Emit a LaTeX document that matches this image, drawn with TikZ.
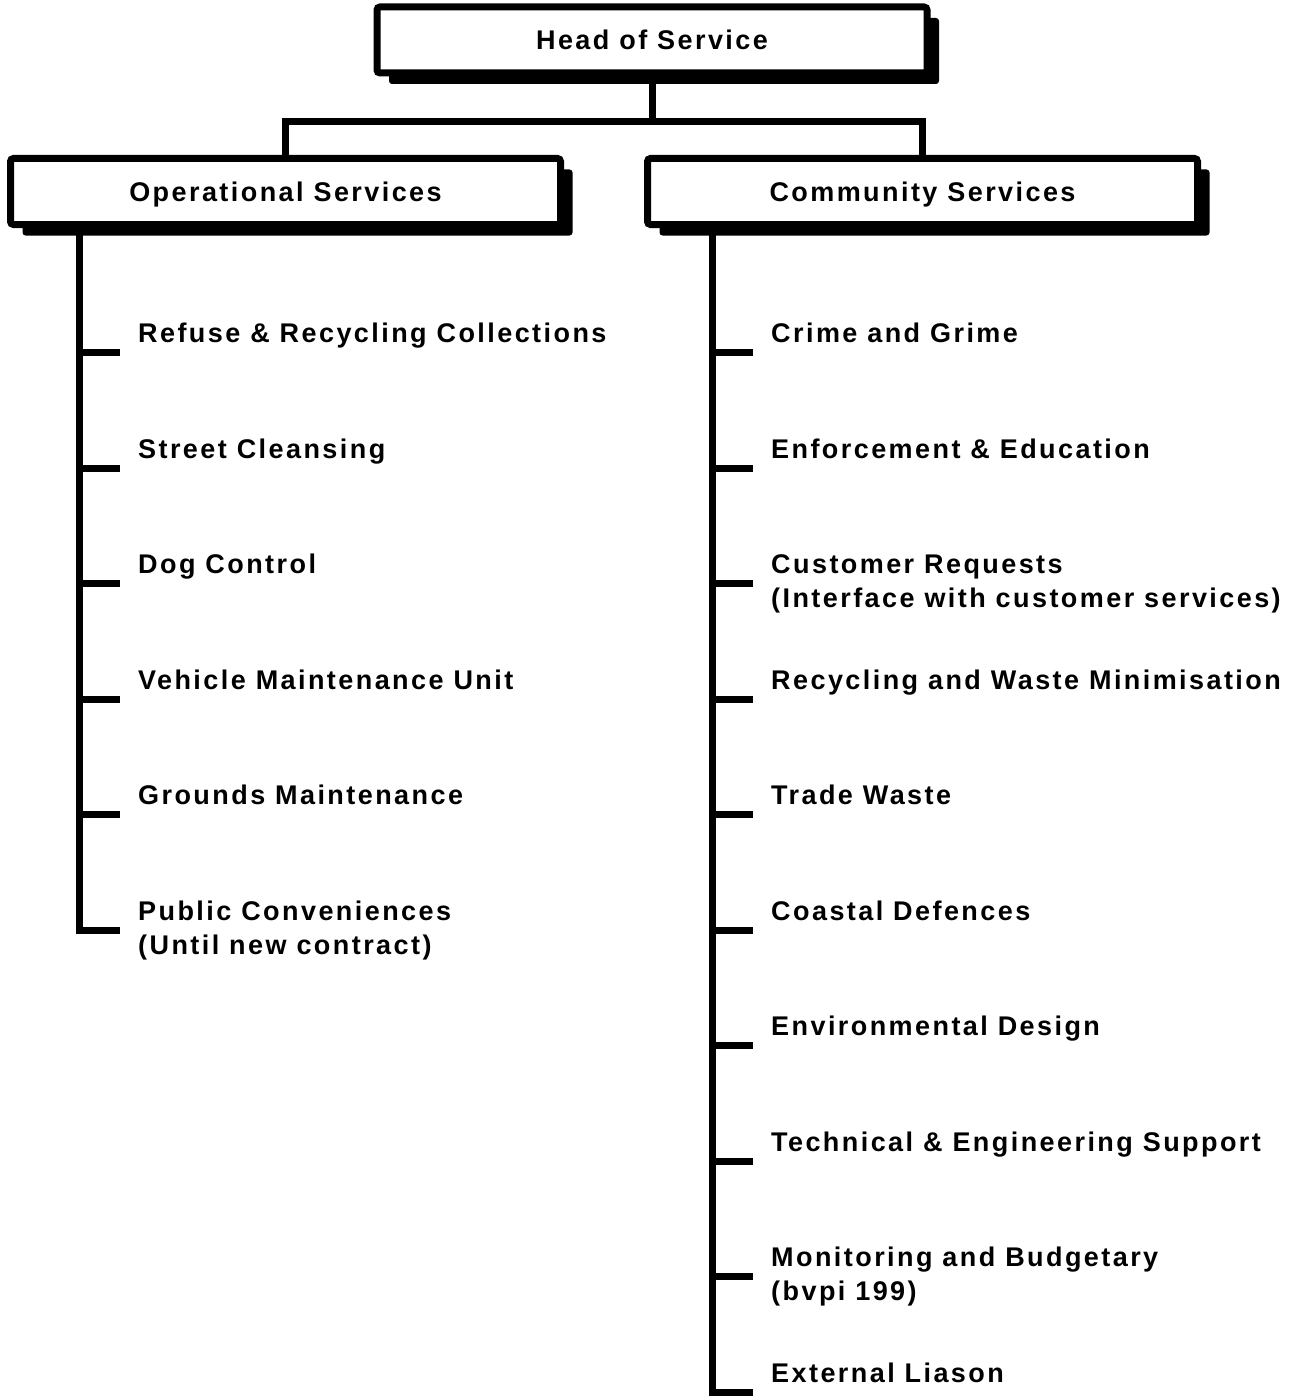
\documentclass[tikz,border=0pt]{standalone}
\usepackage{fontspec}
\newfontfamily\orgfont{Liberation Sans}[LetterSpace=9]
\usetikzlibrary{shadows}

\newcommand{\dutytext}[1]{\begin{tabular}[t]{@{}l@{}}#1\end{tabular}}

\tikzset{
  unitbox/.style={draw, line width=7pt, fill=white, rounded corners=3pt,
    minimum width=550pt, minimum height=66pt, inner sep=0pt,
    text height=19pt, text depth=0pt,
    font={\orgfont\bfseries\fontsize{27pt}{34pt}\selectfont},
    drop shadow={shadow xshift=12pt, shadow yshift=-11pt, opacity=1, fill=black}},
  link/.style={line width=7pt},
  twig/.style={line width=7pt, line cap=rect},
  duty/.style={anchor=base west, inner sep=0pt,
    font={\orgfont\bfseries\fontsize{27pt}{34pt}\selectfont}}
}

\begin{document}
\begin{tikzpicture}[x=1pt, y=-1pt]
  \useasboundingbox (0,0) rectangle (1290,1399);

  % boxes
  \node[unitbox] (head) at (652, 40) {Head of Service};
  \node[unitbox] (ops) at (285.5, 191.5) {Operational Services};
  \node[unitbox] (comm) at (922.5, 191.5) {Community Services};

  % head to the two sections
  \coordinate (split) at (652, 122);
  \draw[link] (head.south) -- (split);
  \draw[link] (ops.north) |- (split) -| (comm.north);

  % operational services
  \foreach \i/\txt in {1/{Refuse \& Recycling Collections}, 2/{Street Cleansing},
      3/{Dog Control}, 4/{Vehicle Maintenance Unit}, 5/{Grounds Maintenance},
      6/{Public Conveniences\\(Until new contract)}} {
    \coordinate (ot\i) at (79, 352.7 + \i*115.5 - 115.5);
    \node[duty] (o\i) at (138, 342.7 + \i*115.5 - 115.5) {\dutytext{\txt}};
    \draw[twig] (ot\i) -- ++(37.5, 0);
  }
  \draw[twig] (ops.south -| ot1) -- (ot6);

  % community services
  \foreach \i/\txt in {1/{Crime and Grime}, 2/{Enforcement \& Education},
      3/{Customer Requests\\(Interface with customer services)},
      4/{Recycling and Waste Minimisation}, 5/{Trade Waste},
      6/{Coastal Defences}, 7/{Environmental Design},
      8/{Technical \& Engineering Support},
      9/{Monitoring and Budgetary\\(bvpi 199)}, 10/{External Liason}} {
    \coordinate (ct\i) at (712, 352.7 + \i*115.5 - 115.5);
    \node[duty] (c\i) at (771, 342.7 + \i*115.5 - 115.5) {\dutytext{\txt}};
    \draw[twig] (ct\i) -- ++(37.5, 0);
  }
  \draw[twig] (comm.south -| ct1) -- (ct10);
\end{tikzpicture}
\end{document}
